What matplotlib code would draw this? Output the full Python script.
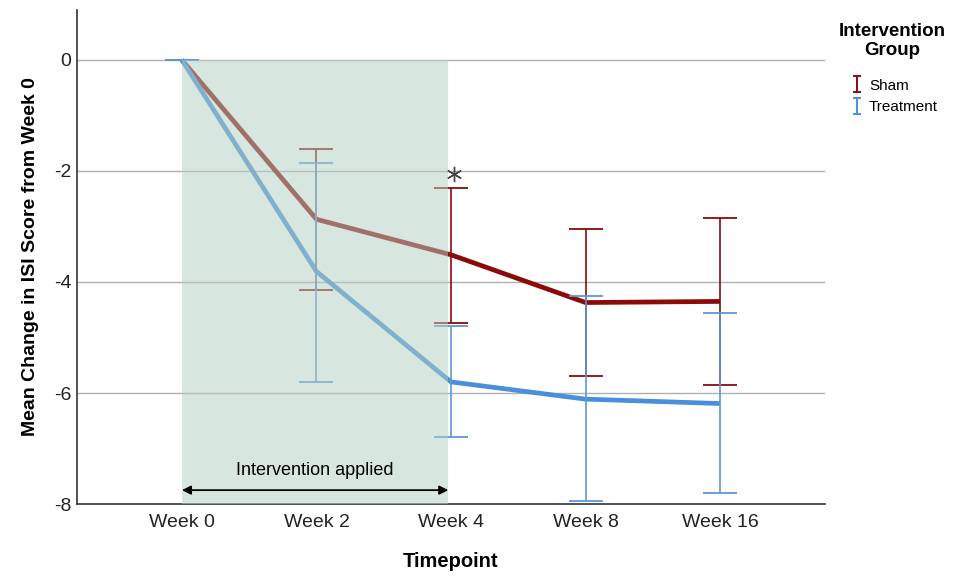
import matplotlib
matplotlib.use("Agg")
import matplotlib.pyplot as plt
from matplotlib.patches import Rectangle
from matplotlib.lines import Line2D
from matplotlib.path import Path

plt.rcParams['font.family'] = ['Liberation Sans', 'DejaVu Sans']
plt.rcParams['axes.unicode_minus'] = False

# data
timepoints = ['Week 0', 'Week 2', 'Week 4', 'Week 8', 'Week 16']
sham_mean = [0, -2.87, -3.51, -4.37, -4.35]
sham_upper = [0, -1.60, -2.30, -3.05, -2.85]
sham_lower = [0, -4.15, -4.74, -5.69, -5.86]
treat_mean = [0, -3.81, -5.80, -6.11, -6.19]
treat_upper = [0, -1.85, -4.80, -4.26, -4.55]
treat_lower = [0, -5.80, -6.80, -7.95, -7.81]
star_y = -2.06

sham_col = '#8b0a0a'
treat_col = '#4a8fdc'
treat_err_col = '#5c98d6'

x = list(range(len(timepoints)))

fig = plt.figure(figsize=(9.56, 5.79), dpi=100)
ax = fig.add_axes([0.0805, 0.1295, 0.7825, 0.8532])

for yy in [0, -2, -4, -6]:
    ax.axhline(yy, color='#b0b0b0', lw=1, zorder=1)

def err(mean, up, lo):
    return [[m - l for m, l in zip(mean, lo)], [u - m for m, u in zip(mean, up)]]

ax.plot(x, sham_mean, color=sham_col, lw=3.4, zorder=2, solid_capstyle='butt')
ax.plot(x, treat_mean, color=treat_col, lw=3.4, zorder=2, solid_capstyle='butt')
ax.errorbar(x, sham_mean, yerr=err(sham_mean, sham_upper, sham_lower), fmt='none',
            ecolor=sham_col, elinewidth=1.2, capsize=12, capthick=1.3, zorder=2)
ax.errorbar(x, treat_mean, yerr=err(treat_mean, treat_upper, treat_lower), fmt='none',
            ecolor=treat_err_col, elinewidth=1.2, capsize=12, capthick=1.3, zorder=2)

# shaded intervention period, drawn over the lines so they look faded
ax.add_patch(Rectangle((0, -8), 1.98, 8, facecolor='#b4cfc1', alpha=0.52, edgecolor='none', zorder=3))

ax.annotate('', xy=(1.98, -7.75), xytext=(0, -7.75),
            arrowprops=dict(arrowstyle='<|-|>', color='black', lw=1.3, mutation_scale=13,
                            shrinkA=0, shrinkB=0), zorder=5)
ax.text(0.99, -7.4, 'Intervention applied', ha='center', va='center', fontsize=13, zorder=5)

ax.plot(2.02, star_y, marker=(6, 2, 0), color='#444444', markersize=11, mew=1.0, zorder=5)

ax.set_xlim(-0.78, 4.78)
ax.set_ylim(-8, 0.9)
ax.set_yticks([0, -2, -4, -6, -8])
ax.set_xticks(x)
ax.set_xticklabels(timepoints)
ax.tick_params(length=0, labelsize=14, colors='#222222')
ax.tick_params(axis='x', pad=7)
ax.tick_params(axis='y', pad=4)
for s in ['top', 'right']:
    ax.spines[s].set_visible(False)
for s in ['left', 'bottom']:
    ax.spines[s].set_color('#333333')
    ax.spines[s].set_linewidth(1.2)

ax.set_xlabel('Timepoint', fontsize=14.5, fontweight='bold', labelpad=15)
ax.set_ylabel('Mean Change in ISI Score from Week 0', fontsize=14, fontweight='bold', labelpad=11)

# legend title as its own text, entries with small errorbar-shaped icons
fig.text(0.933, 1 - 41 / 579, 'Intervention\nGroup', ha='center', va='center',
         fontsize=13.5, fontweight='bold', linespacing=1.2)
ibar = Path([(-0.5, -1), (0.5, -1), (0, -1), (0, 1), (-0.5, 1), (0.5, 1)],
            [Path.MOVETO, Path.LINETO, Path.MOVETO, Path.LINETO, Path.MOVETO, Path.LINETO])
handles = [Line2D([], [], ls='none', marker=ibar, markersize=11, mew=1.4,
                  markeredgecolor=sham_col, markerfacecolor='none'),
           Line2D([], [], ls='none', marker=ibar, markersize=11, mew=1.4,
                  markeredgecolor=treat_col, markerfacecolor='none')]
fig.legend(handles, ['Sham', 'Treatment'], loc='upper left',
           bbox_to_anchor=(843 / 956, 1 - 71 / 579), frameon=False, borderpad=0,
           fontsize=11, handlelength=0.8, handletextpad=0.4, labelspacing=0.5)

fig.savefig('out.png', dpi=100)
